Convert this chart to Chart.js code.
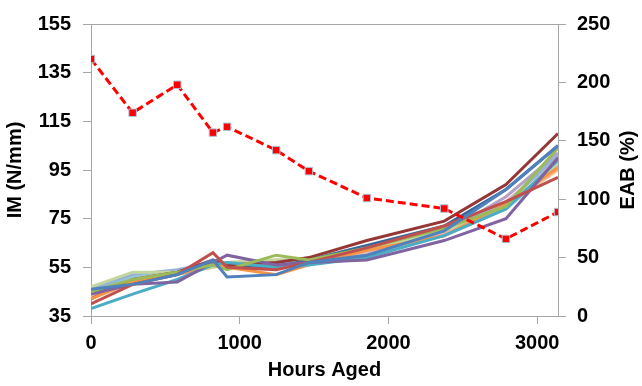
<!DOCTYPE html>
<html>
<head>
<meta charset="utf-8">
<script src="https://cdn.jsdelivr.net/npm/chart.js@4/dist/chart.umd.min.js"></script>
<style>
html,body{margin:0;padding:0;background:#fff;}
#wrap{width:642px;height:386px;}
</style>
</head>
<body>
<div id="wrap"><canvas id="c" width="642" height="386"></canvas></div>
<script>
// Hours aged (x positions)
const hours = [0, 280, 580, 820, 915, 1245, 1465, 1855, 2375, 2790, 3140];

// EAB (%) on right axis
const eab = [220, 174, 198, 157, 162, 142, 124, 101, 92, 66, 89];

// IM (N/mm) series, left axis
const im1  = [46, 48, 52, 58, 51, 52, 57, 60, 70, 87, 105];
const im2  = [40, 48, 52, 61, 55, 54, 57, 63, 72, 82, 92];
const im3  = [45, 50, 53, 56, 54, 60, 58, 63, 71, 80, 104];
const im4  = [44, 48, 49, 57, 60, 56, 57, 58, 66, 75, 100];
const im5  = [38, 44, 50, 56, 57, 55, 56, 59, 68, 79, 99];
const im6  = [42, 49, 52, 56, 55, 52, 56, 62, 68, 81, 96];
const im7  = [42, 50, 53, 58, 56, 57, 59, 66, 74, 89, 110];
const im8  = [45, 49, 53, 57, 55, 55, 58, 64, 72, 87, 105];
const im9  = [47, 53, 53, 55, 57, 58, 58, 62, 70, 80, 98];
const im10 = [46, 52, 54, 57, 56, 57, 58, 62, 70, 81, 101];
const im11 = [43, 50, 53, 57, 57, 58, 58, 61, 69, 82, 100];
const im12 = [44, 49, 52, 56, 56, 57, 58, 61, 69, 84, 102];
const im13 = [45, 51, 53, 56, 56, 56, 57, 60, 68, 79, 97];
const im14 = [43, 50, 52, 55, 56, 56, 57, 61, 68, 80, 95];

const imSeries = [im1, im2, im3, im4, im5, im6, im7, im8, im9, im10, im11, im12, im13, im14];
const imColors = ['#4F81BD', '#C0504D', '#9BBB59', '#8064A2', '#4BACC6', '#F79646',
                  '#953735', '#3A6699', '#C3D69B', '#95B3D7', '#E6B9B8', '#B3A2C7', '#93CDDD', '#FAC090'];

// Axis tick labels / ranges
const xTicks = [0, 1000, 2000, 3000];
const yLeftMin = 35, yLeftMax = 155, yLeftStep = 20;
const yRightMin = 0, yRightMax = 250, yRightStep = 50;
const xMin = 0, xMax = 3140;
const rightTitle = 'EAB (%)';

const toXY = arr => arr.map((v, i) => ({x: hours[i], y: v}));

const datasets = [{
  label: 'EAB (%)',
  data: toXY(eab),
  yAxisID: 'y1',
  borderColor: '#FF0000',
  borderWidth: 3,
  borderDash: [8, 4],
  pointStyle: 'rect',
  pointRadius: 5.3,
  pointBackgroundColor: '#FF0000',
  pointBorderColor: '#A8C8DC',
  pointBorderWidth: 1,
  order: 0,
  tension: 0
}];
imSeries.forEach((s, i) => {
  datasets.push({
    label: 'IM ' + (i + 1),
    data: toXY(s),
    yAxisID: 'y',
    borderColor: imColors[i],
    borderWidth: 3,
    pointRadius: 0,
    order: 1 + i,
    tension: 0
  });
});

const font = {family: 'Liberation Sans, Arial, sans-serif', size: 20, weight: 'bold'};
const axisGray = '#A6A6A6';

// Right axis title drawn reading bottom-to-top (like the reference)
const rightTitlePlugin = {
  id: 'rightTitle',
  afterDraw(chart) {
    const ctx = chart.ctx;
    const a = chart.chartArea;
    ctx.save();
    ctx.translate(628, (a.top + a.bottom) / 2);
    ctx.rotate(-Math.PI / 2);
    ctx.font = 'bold 20px "Liberation Sans", Arial, sans-serif';
    ctx.fillStyle = '#000';
    ctx.textAlign = 'center';
    ctx.textBaseline = 'middle';
    ctx.fillText(rightTitle, 0, 0);
    ctx.restore();
  }
};

new Chart(document.getElementById('c'), {
  type: 'line',
  data: {datasets},
  plugins: [rightTitlePlugin],
  options: {
    responsive: false,
    animation: false,
    layout: {padding: {top: 20, left: 0, right: 0, bottom: 0}},
    plugins: {legend: {display: false}, tooltip: {enabled: false}},
    scales: {
      x: {
        type: 'linear',
        min: xMin, max: xMax,
        afterFit: s => { s.height = 70; },
        afterBuildTicks: s => { s.ticks = xTicks.map(v => ({value: v})); },
        ticks: {color: '#000', font, padding: 7, maxRotation: 0, autoSkip: false,
                callback: v => String(v)},
        grid: {color: 'transparent', tickColor: axisGray, tickLength: 8, drawTicks: true},
        border: {color: axisGray, width: 1},
        title: {display: true, text: 'Hours Aged', color: '#000', font, padding: {top: 0, bottom: 4}}
      },
      y: {
        position: 'left',
        min: yLeftMin, max: yLeftMax,
        afterFit: s => { s.width = 91; },
        ticks: {stepSize: yLeftStep, color: '#000', font, padding: 12},
        grid: {
          color: c => (c.tick && c.tick.value === yLeftMax) ? axisGray : 'transparent',
          tickColor: axisGray, tickLength: 8, drawTicks: true
        },
        border: {color: axisGray, width: 1},
        title: {display: true, text: 'IM (N/mm)', color: '#000', font, padding: {top: 3, bottom: 0}}
      },
      y1: {
        position: 'right',
        min: yRightMin, max: yRightMax,
        afterFit: s => { s.width = 84; },
        ticks: {stepSize: yRightStep, color: '#000', font, padding: 11},
        grid: {color: 'transparent', tickColor: axisGray, tickLength: 8, drawTicks: true, drawOnChartArea: false},
        border: {color: axisGray, width: 1},
        title: {display: false}
      }
    }
  }
});
</script>
</body>
</html>
